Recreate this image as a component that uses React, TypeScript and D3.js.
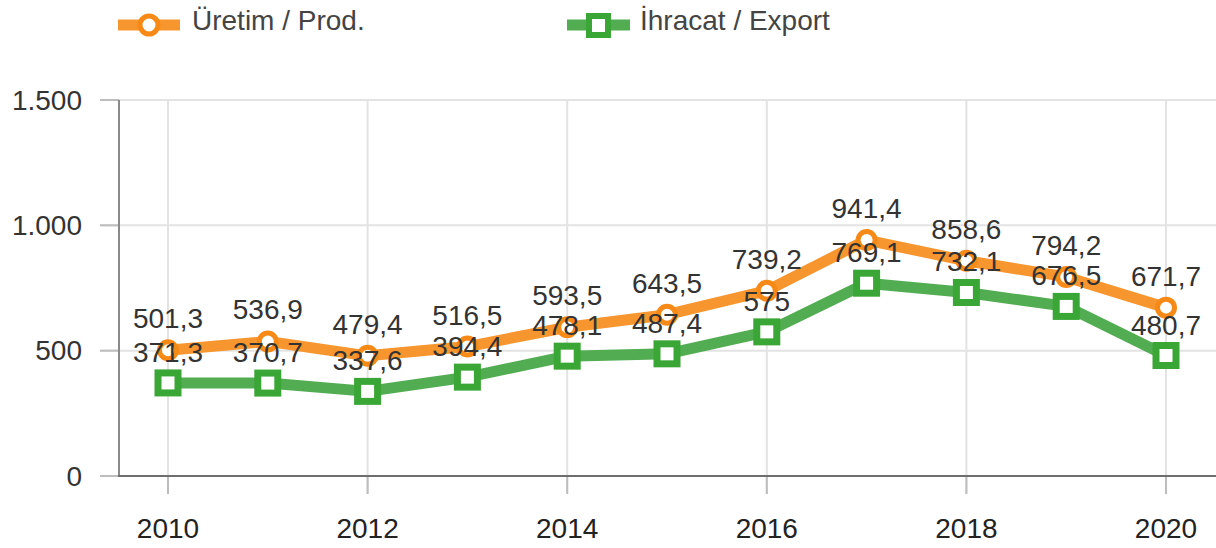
import React from "react";
import * as d3 from "d3";

const years = [2010, 2011, 2012, 2013, 2014, 2015, 2016, 2017, 2018, 2019, 2020];
const production = [501.3, 536.9, 479.4, 516.5, 593.5, 643.5, 739.2, 941.4, 858.6, 794.2, 671.7];
const exportVals = [371.3, 370.7, 337.6, 394.4, 478.1, 487.4, 575, 769.1, 732.1, 676.5, 480.7];
const yTicks = [0, 500, 1000, 1500];
const xTicks = [2010, 2012, 2014, 2016, 2018, 2020];
const seriesNames = ["Üretim / Prod.", "İhracat / Export"];

const W = 1216;
const H = 548;
const FONT = "'Liberation Sans', Arial, sans-serif";
const FS = 28;
const ORANGE_LINE = "#f7962f";
const ORANGE_PT = "#f78a17";
const GREEN_LINE = "#52ad52";
const GREEN_PT = "#3aa635";

const fmtY = (v: number) => d3.format(",")(v).replace(/,/g, ".");
const fmtV = (v: number) => String(v).replace(".", ",");

export default function App() {
  const x = d3.scaleLinear().domain([2010, 2020]).range([168, 1166]);
  const y = d3.scaleLinear().domain([0, 1500]).range([476, 100]);
  const line = d3
    .line<number>()
    .x((_, i) => x(years[i]))
    .y((d) => y(d));

  return (
    <svg
      width={W}
      height={H}
      style={{ position: "fixed", left: 0, top: 0, display: "block", background: "#fff" }}
      fontFamily={FONT}
    >
      {/* grid */}
      {yTicks.map((t) => (
        <line key={"gy" + t} x1={100} x2={W} y1={y(t)} y2={y(t)} stroke="#e3e3e3" strokeWidth={2} />
      ))}
      {xTicks.map((t) => (
        <line key={"gx" + t} x1={x(t)} x2={x(t)} y1={100} y2={494} stroke="#e3e3e3" strokeWidth={2} />
      ))}
      {yTicks.map((t) => (
        <line key={"ty" + t} x1={100} x2={119} y1={y(t)} y2={y(t)} stroke="#bdbdbd" strokeWidth={2} />
      ))}
      {xTicks.map((t) => (
        <line key={"tx" + t} x1={x(t)} x2={x(t)} y1={476} y2={494} stroke="#bdbdbd" strokeWidth={2} />
      ))}
      {/* axes */}
      <line x1={119} x2={119} y1={100} y2={477} stroke="#8a8a8a" strokeWidth={2} />
      <line x1={118} x2={W} y1={476} y2={476} stroke="#6e6e6e" strokeWidth={2} />

      {/* y labels */}
      {yTicks.map((t) => (
        <text key={"ly" + t} x={82} y={y(t)} dy="0.35em" textAnchor="end" fontSize={FS} fill="#333">
          {fmtY(t)}
        </text>
      ))}
      {xTicks.map((t) => (
        <text key={"lx" + t} x={x(t)} y={538} textAnchor="middle" fontSize={FS} fill="#222">
          {t}
        </text>
      ))}

      {/* lines */}
      <path d={line(exportVals) || ""} fill="none" stroke={GREEN_LINE} strokeWidth={11} strokeLinejoin="round" />
      <path d={line(production) || ""} fill="none" stroke={ORANGE_LINE} strokeWidth={11} strokeLinejoin="round" />

      {exportVals.map((v, i) => (
        <rect
          key={"pe" + i}
          x={x(years[i]) - 10}
          y={y(v) - 10}
          width={20}
          height={20}
          fill="#fff"
          stroke={GREEN_PT}
          strokeWidth={7}
        />
      ))}
      {production.map((v, i) => (
        <circle key={"pp" + i} cx={x(years[i])} cy={y(v)} r={8.5} fill="#fff" stroke={ORANGE_PT} strokeWidth={5} />
      ))}

      {/* value labels */}
      {production.map((v, i) => (
        <text key={"vp" + i} x={x(years[i])} y={y(v) - 22} textAnchor="middle" fontSize={FS} fill="#333">
          {fmtV(v)}
        </text>
      ))}
      {exportVals.map((v, i) => (
        <text key={"ve" + i} x={x(years[i])} y={y(v) - 21} textAnchor="middle" fontSize={FS} fill="#333">
          {fmtV(v)}
        </text>
      ))}

      {/* legend */}
      <line x1={118} x2={180} y1={25} y2={25} stroke={ORANGE_LINE} strokeWidth={11} />
      <circle cx={149} cy={25} r={9} fill="#fff" stroke={ORANGE_PT} strokeWidth={5} />
      <text x={192} y={30} fontSize={FS} fill="#444">
        {seriesNames[0]}
      </text>
      <line x1={567} x2={630} y1={25} y2={25} stroke={GREEN_LINE} strokeWidth={11} />
      <rect x={589} y={16} width={19} height={19} fill="#fff" stroke={GREEN_PT} strokeWidth={6} />
      <text x={640} y={30} fontSize={FS} fill="#444">
        {seriesNames[1]}
      </text>
    </svg>
  );
}
